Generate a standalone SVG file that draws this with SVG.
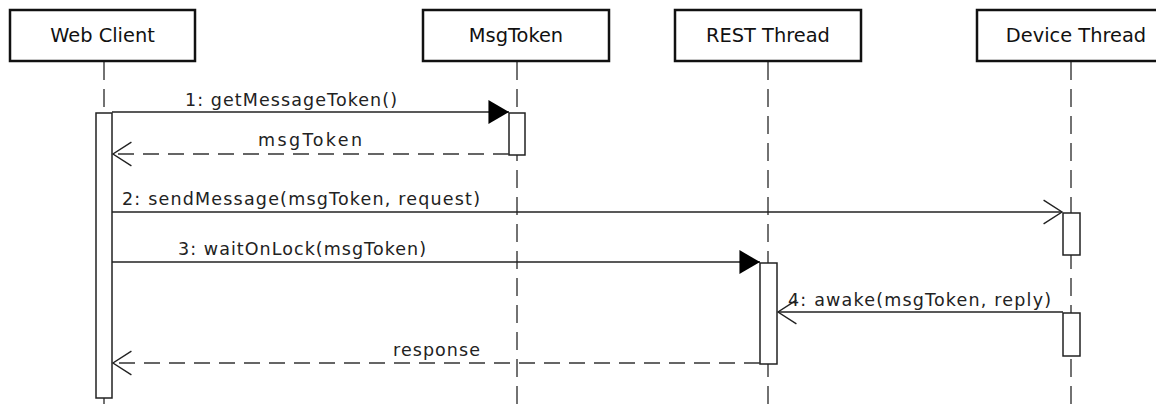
<svg xmlns="http://www.w3.org/2000/svg" width="1156" height="410" viewBox="0 0 1156 410">
<style>
.head{fill:#fff;stroke:#111;stroke-width:2.5}
.hl{font-family:"DejaVu Sans",sans-serif;font-size:19.4px;fill:#111;text-anchor:middle}
.life{stroke:#444;stroke-width:1.5;stroke-dasharray:18 9;fill:none}
.act{fill:#fff;stroke:#222;stroke-width:1.5}
.msg{stroke:#222;stroke-width:1.3;fill:none}
.ret{stroke:#333;stroke-width:1.3;fill:none;stroke-dasharray:16 9}
.lbl{font-family:"DejaVu Sans",sans-serif;font-size:17.5px;fill:#222}
</style>
<defs>
<marker id="filled" markerUnits="userSpaceOnUse" markerWidth="24" markerHeight="26" viewBox="-20 -12 22 24" refX="0" refY="0" orient="auto">
<path d="M0,0 L-19,-11 L-19,11 Z" fill="#000"/>
</marker>
<marker id="open" markerUnits="userSpaceOnUse" markerWidth="24" markerHeight="26" viewBox="-20 -12 22 24" refX="0" refY="0" orient="auto">
<path d="M-17,-11 L0,0 L-17,11" fill="none" stroke="#222" stroke-width="1.3"/>
</marker>
</defs>
<rect width="1156" height="410" fill="#fff"/>
<g id="lifelines">
<line class="life" x1="104" y1="62" x2="104" y2="410"/>
<line class="life" x1="517" y1="62" x2="517" y2="410"/>
<line class="life" x1="768" y1="62" x2="768" y2="410"/>
<line class="life" x1="1071" y1="62" x2="1071" y2="410"/>
</g>
<g id="web-client">
<rect class="head" x="10" y="10" width="185" height="51"/>
<text class="hl" x="102.5" y="42">Web Client</text>
<rect class="act" x="96" y="113" width="16" height="285"/>
</g>
<g id="msgtoken">
<rect class="head" x="423" y="10" width="186" height="51"/>
<text class="hl" x="516" y="42">MsgToken</text>
<rect class="act" x="509" y="113" width="16" height="42"/>
</g>
<g id="rest-thread">
<rect class="head" x="675" y="10" width="186" height="51"/>
<text class="hl" x="768" y="42">REST Thread</text>
<rect class="act" x="760" y="263" width="17" height="101"/>
</g>
<g id="device-thread">
<rect class="head" x="977" y="10" width="186" height="51"/>
<text class="hl" x="1076" y="42">Device Thread</text>
<rect class="act" x="1063" y="213" width="17" height="42"/>
<rect class="act" x="1063" y="313" width="17" height="43"/>
</g>
<g id="connectors">
<line class="msg" x1="112" y1="112" x2="509" y2="112" marker-end="url(#filled)"/>
<text class="lbl" x="185" y="106" textLength="212" lengthAdjust="spacing">1: getMessageToken()</text>
<line class="ret" x1="509" y1="154" x2="113" y2="154" marker-end="url(#open)"/>
<text class="lbl" x="258" y="146" textLength="104" lengthAdjust="spacing">msgToken</text>
<line class="msg" x1="112" y1="212" x2="1062" y2="212" marker-end="url(#open)"/>
<text class="lbl" x="122" y="205" textLength="358" lengthAdjust="spacing">2: sendMessage(msgToken, request)</text>
<line class="msg" x1="112" y1="262" x2="760" y2="262" marker-end="url(#filled)"/>
<text class="lbl" x="178" y="255" textLength="248" lengthAdjust="spacing">3: waitOnLock(msgToken)</text>
<line class="msg" x1="1063" y1="312" x2="778" y2="312" marker-end="url(#open)"/>
<text class="lbl" x="788" y="306" textLength="263" lengthAdjust="spacing">4: awake(msgToken, reply)</text>
<line class="ret" x1="760" y1="363" x2="113" y2="363" marker-end="url(#open)"/>
<text class="lbl" x="393" y="356" textLength="87" lengthAdjust="spacing">response</text>
</g>
</svg>
